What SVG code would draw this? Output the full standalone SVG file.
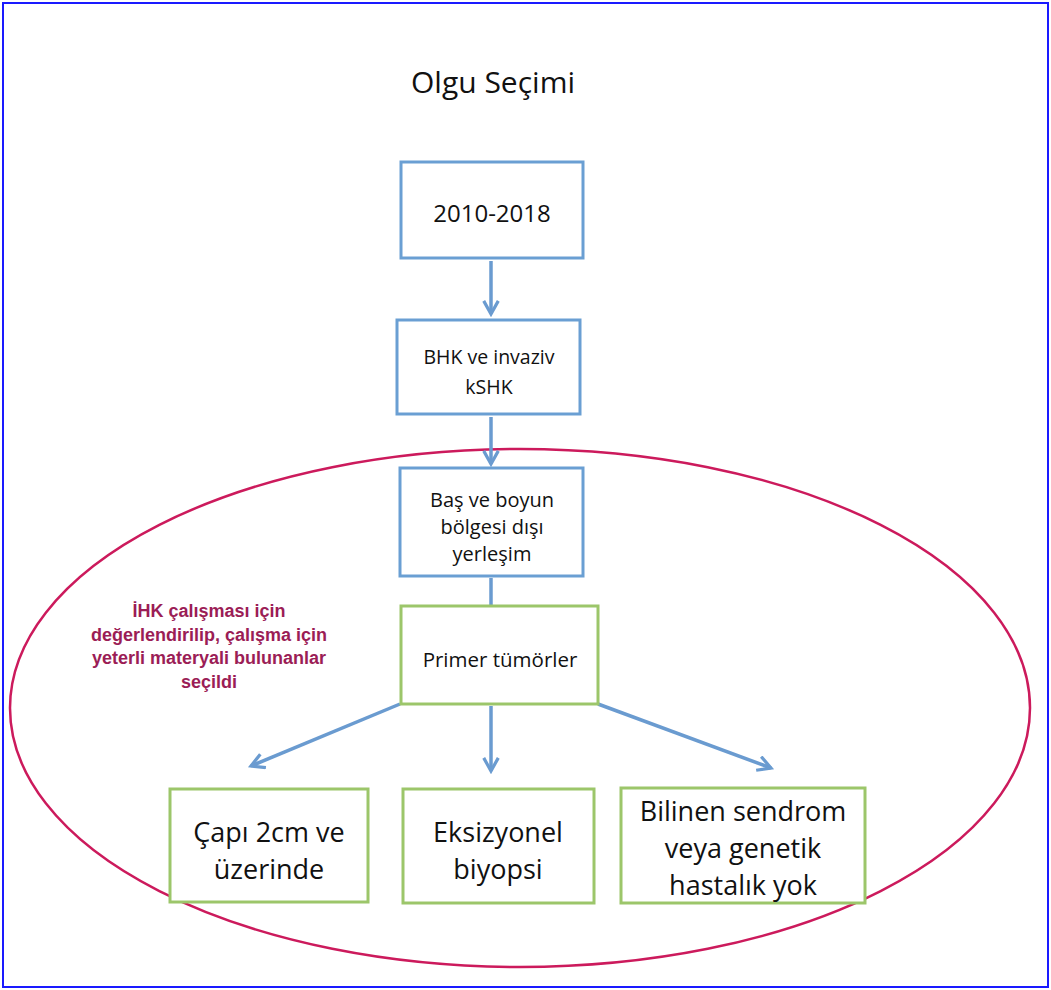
<svg xmlns="http://www.w3.org/2000/svg" width="1051" height="990" viewBox="0 0 1051 990">
<style>
.frame{fill:#fff;stroke:#1a1aff;stroke-width:2}
.bbox{fill:#fff;stroke:#6a9fd3;stroke-width:3}
.gbox{fill:#fff;stroke:#9cc66a;stroke-width:3}
.conn{fill:none;stroke:#6a9bd0;stroke-width:3.5}
.t{font-family:"Open Sans","Liberation Sans",sans-serif;fill:#111;text-anchor:middle}
.p{font-family:"Liberation Sans",Arial,sans-serif;font-weight:bold;fill:#9b1d56;text-anchor:middle;font-size:18px}
</style>
<defs>
<marker id="ah" viewBox="0 0 12 12" refX="10" refY="6" markerWidth="5" markerHeight="5" markerUnits="strokeWidth" orient="auto">
<path d="M1,1 L10,6 L1,11" fill="none" stroke="#6a9bd0" stroke-width="2.2"/>
</marker>
</defs>
<rect class="frame" x="3" y="3" width="1045" height="984"/>
<text class="t" x="493" y="93" font-size="30">Olgu Seçimi</text>
<ellipse cx="520" cy="708" rx="510" ry="259" fill="none" stroke="#cc1a5c" stroke-width="2.5"/>
<g id="connectors">
<line class="conn" x1="491" y1="261" x2="491" y2="314" marker-end="url(#ah)"/>
<line class="conn" x1="491" y1="417" x2="491" y2="464" marker-end="url(#ah)"/>
<line class="conn" x1="491" y1="578" x2="491" y2="605"/>
<line class="conn" x1="400" y1="704" x2="251" y2="766" marker-end="url(#ah)"/>
<line class="conn" x1="491" y1="706" x2="491" y2="771" marker-end="url(#ah)"/>
<line class="conn" x1="598" y1="704" x2="771" y2="768" marker-end="url(#ah)"/>
</g>
<g id="n2010">
<rect class="bbox" x="401" y="162" width="182" height="96"/>
<text class="t" x="492" y="222" font-size="24">2010-2018</text>
</g>
<g id="nBHK">
<rect class="bbox" x="397" y="320" width="183" height="94"/>
<text class="t" x="489" y="364" font-size="19.5">BHK ve invaziv</text>
<text class="t" x="489" y="394" font-size="19.5">kSHK</text>
</g>
<g id="nBas">
<rect class="bbox" x="400" y="468" width="183" height="108"/>
<text class="t" x="492" y="507" font-size="20">Baş ve boyun</text>
<text class="t" x="492" y="534" font-size="20">bölgesi dışı</text>
<text class="t" x="492" y="561" font-size="20">yerleşim</text>
</g>
<g id="nPrimer">
<rect class="gbox" x="401" y="606" width="197" height="98"/>
<text class="t" x="500" y="667" font-size="20.5">Primer tümörler</text>
</g>
<g id="note">
<text class="p" x="209" y="617">İHK çalışması için</text>
<text class="p" x="209" y="641">değerlendirilip, çalışma için</text>
<text class="p" x="209" y="664">yeterli materyali bulunanlar</text>
<text class="p" x="209" y="688">seçildi</text>
</g>
<g id="nCapi">
<rect class="gbox" x="170" y="789" width="198" height="113"/>
<text class="t" x="269" y="842" font-size="27">Çapı 2cm ve</text>
<text class="t" x="269" y="879" font-size="27">üzerinde</text>
</g>
<g id="nEks">
<rect class="gbox" x="403" y="789" width="191" height="114"/>
<text class="t" x="498" y="842" font-size="27">Eksizyonel</text>
<text class="t" x="498" y="879" font-size="27">biyopsi</text>
</g>
<g id="nBil">
<rect class="gbox" x="621" y="788" width="244" height="115"/>
<text class="t" x="743" y="821" font-size="27">Bilinen sendrom</text>
<text class="t" x="743" y="858" font-size="27">veya genetik</text>
<text class="t" x="743" y="895" font-size="27">hastalık yok</text>
</g>
</svg>
